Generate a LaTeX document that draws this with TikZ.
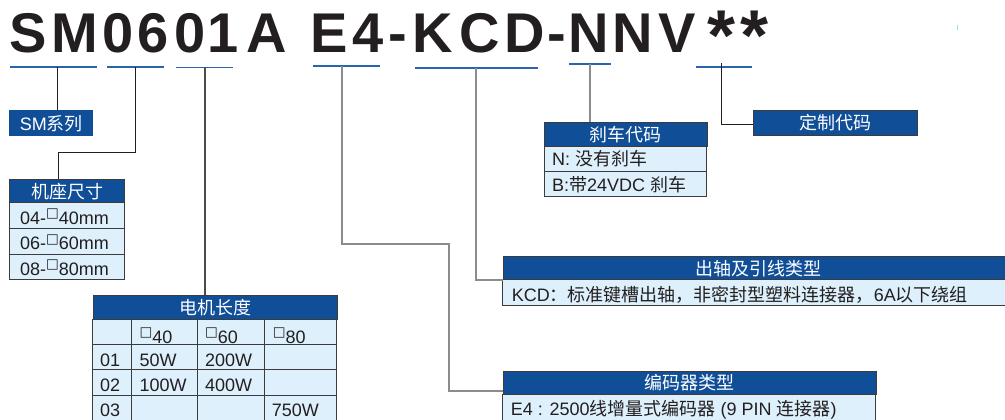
\documentclass[tikz,border=0pt]{standalone}
\usepackage{fontspec}
\setmainfont{Liberation Sans}
\newfontfamily\cjkf{Noto Sans CJK SC}
\newfontfamily\dvs{DejaVu Sans}
\definecolor{hblue}{RGB}{16,78,152}
\definecolor{rowfill}{RGB}{221,240,251}
\definecolor{bord}{RGB}{60,60,60}
\definecolor{ublue}{RGB}{43,100,174}
\definecolor{tblack}{RGB}{35,31,32}
\definecolor{lgray}{RGB}{140,140,140}
\newcommand\zh[1]{{\cjkf #1}}
\newcommand\sqr{\raisebox{6.5pt}{\fontsize{13.5}{13.5}\selectfont\dvs □}}
\tikzset{
  ttl/.style={anchor=base, inner sep=0, text=tblack, font=\bfseries\fontsize{56}{56}\selectfont},
  asterisk/.style={anchor=center, inner sep=0, text=tblack, font=\bfseries\fontsize{72}{72}\selectfont},
  hdr/.style={anchor=north west, fill=hblue, draw=bord, line width=0.8pt, text=white, inner sep=0, font=\cjkf\fontsize{18}{18}\selectfont},
  cell/.style={fill=rowfill, draw=bord, line width=0.8pt},
  txt/.style={anchor=base west, inner sep=0, text=tblack, font=\fontsize{18}{18}\selectfont},
  uline/.style={draw=ublue, line width=1.6pt},
  conn/.style={draw=tblack, line width=0.9pt},
  conng/.style={draw=lgray, line width=1.4pt},
  connm/.style={draw=black!70, line width=1.1pt},
}
\begin{document}
\begin{tikzpicture}[x=1pt,y=-1pt]
\useasboundingbox (0,0) rectangle (1005,420);
\fill[white] (0,0) rectangle (1005,420);

% title
\foreach \c/\x [count=\i] in {S/28,M/75,0/118,6/153,0/190,1/223,A/267,E/329,4/368,-/398,K/433,C/480,D/525,-/557,N/589,N/633,V/677}
  \node[ttl] (t\i) at (\x,53) {\c};
\node[asterisk] (a1) at (722,36) {*};
\node[asterisk] (a2) at (755,36) {*};
\draw[draw=cyan!40, line width=1pt] (957,25) -- (957,30);

% underlines
\draw[uline] (10,67) -- (97,67);
\draw[uline] (107,67) -- (164,67);
\draw[uline] (176,67.5) -- (233,67.5);
\draw[uline] (313,66) -- (380,66);
\draw[uline] (415,68) -- (538,68);
\draw[uline] (569,64) -- (611,64);
\draw[uline] (696,67) -- (752,67);
\coordinate (s1) at (57.5,67);
\coordinate (s2) at (135,67);
\coordinate (s3) at (205,67);
\coordinate (s4) at (342,66);
\coordinate (s5) at (476,68);
\coordinate (s6) at (590,64);
\coordinate (s7) at (721,63);

% SM series
\node[hdr, draw=none, minimum width=84pt, minimum height=26pt] (sm) at (9,110) {\fontspec{Liberation Sans}SM\zh{系列}};

% frame size table
\node[hdr, minimum width=114.7pt, minimum height=23.4pt] (jz) at (9.3,179.3) {机座尺寸};
\draw[cell] (9.3,202.7) rectangle (124,228.3);
\draw[cell] (9.3,228.3) rectangle (124,254);
\draw[cell] (9.3,254) rectangle (124,279.5);
\node[txt] (jz1) at (20,224) {04-\sqr 40mm};
\node[txt] (jz2) at (20,249.7) {06-\sqr 60mm};
\node[txt] (jz3) at (20,275.2) {08-\sqr 80mm};
\coordinate (jzT) at (58,179.3);

% motor length table
\node[hdr, minimum width=244pt, minimum height=24pt] (dj) at (92.7,295) {电机长度};
\foreach \ya/\yb in {319/344.3, 344.3/369.3, 369.3/395, 395/424}
  \foreach \xa/\xb in {92.7/131, 131/197.3, 197.3/264.3, 264.3/336.7}
    \draw[cell] (\xa,\ya) rectangle (\xb,\yb);
\node[txt] (c1) at (139.3,343) {\sqr 40};
\node[txt] (c2) at (205,343) {\sqr 60};
\node[txt] (c3) at (272.7,343) {\sqr 80};
\node[txt] (r1) at (100,366) {01};
\node[txt] (r1a) at (139.3,366) {50W};
\node[txt] (r1b) at (205,366) {200W};
\node[txt] (r2) at (100,391.7) {02};
\node[txt] (r2a) at (139.3,391.7) {100W};
\node[txt] (r2b) at (205,391.7) {400W};
\node[txt] (r3) at (100,416.7) {03};
\node[txt] (r3c) at (271.7,416.7) {750W};

% brake code
\node[hdr, minimum width=162.7pt, minimum height=24.3pt] (sc) at (544,121.7) {刹车代码};
\draw[cell] (544,146) rectangle (706.7,171);
\draw[cell] (544,171) rectangle (706.7,196);
\node[txt] (sc1) at (552,165) {N: \zh{没有刹车}};
\node[txt] (sc2) at (552,191.5) {B:\zh{带}24VDC \zh{刹车}};

% custom code
\node[hdr, minimum width=164pt, minimum height=24pt] (dz) at (753,110.5) {定制代码};
\coordinate (dzT) at (753,124);

% shaft and lead type
\node[hdr, minimum width=510pt, minimum height=23.5pt] (cz) at (502.7,256) {出轴及引线类型};
\draw[cell] (502.7,279.5) rectangle (1012,305);
\node[txt] (cz1) at (511.7,301) {KCD\zh{：标准键槽出轴，非密封型塑料连接器，}6A\zh{以下绕组}};
\coordinate (czT) at (502.7,280);

% encoder type
\node[hdr, minimum width=373pt, minimum height=23.3pt] (bm) at (502.7,370.7) {编码器类型};
\draw[cell] (502.7,394) rectangle (875.7,424);
\node[txt] (bm1) at (510.7,415) {E4 : 2500\zh{线增量式编码器} (9 PIN \zh{连接器})};
\coordinate (bmT) at (502.7,391);

% connectors
\draw[conn] (s1) -- (s1 |- sm.north);
\draw[conn] (s2) -- ++(0,85) -| (jzT);
\draw[connm] (s3) -- (s3 |- dj.north);
\draw[conng] (s4) |- (449,244) |- (bmT);
\draw[conng] (s5) |- (czT);
\draw[conng] (s6) -- (s6 |- sc.north);
\draw[conn] (s7) |- (dzT);
\end{tikzpicture}
\end{document}
